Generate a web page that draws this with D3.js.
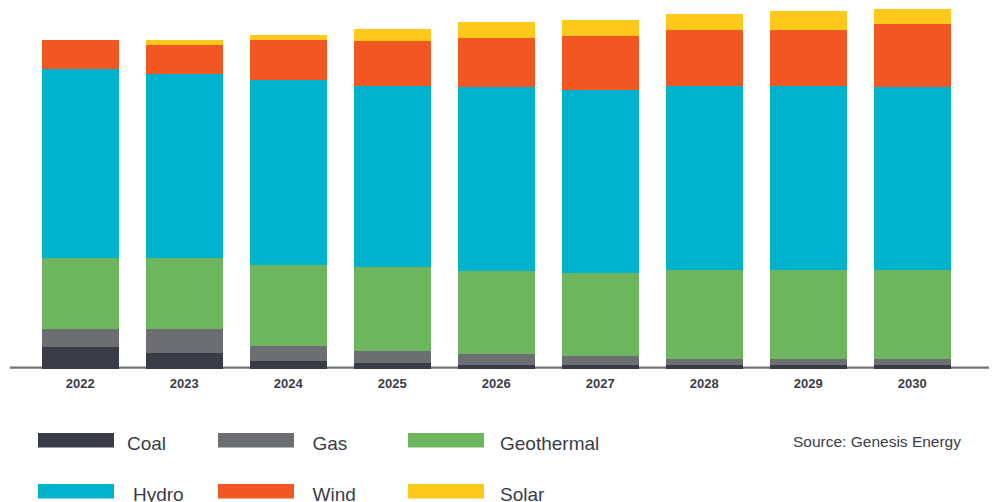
<!DOCTYPE html>
<html>
<head>
<meta charset="utf-8">
<script src="https://cdn.jsdelivr.net/npm/d3@7/dist/d3.min.js"></script>
<style>
  html, body { margin: 0; padding: 0; background: #ffffff; }
  svg { display: block; }
</style>
</head>
<body>
<svg id="chart" width="997" height="502"></svg>
<script>
// ---- Data (TWh) ----
const years = ['2022', '2023', '2024', '2025', '2026', '2027', '2028', '2029', '2030'];
const coal       = [2.8, 2.0, 1.0, 0.7, 0.5, 0.5, 0.5, 0.5, 0.5];
const gas        = [2.4, 3.2, 2.0, 1.6, 1.4, 1.2, 0.8, 0.7, 0.8];
const geothermal = [9.4, 9.4, 10.6, 11.0, 10.9, 10.9, 11.7, 11.8, 11.7];
const hydro      = [24.8, 24.2, 24.3, 23.9, 24.3, 24.1, 24.2, 24.2, 24.0];
const wind       = [3.8, 3.8, 5.3, 5.9, 6.4, 7.1, 7.4, 7.4, 8.3];
const solar      = [0.0, 0.6, 0.7, 1.6, 2.1, 2.1, 2.0, 2.4, 2.0];

const seriesNames  = ['Coal', 'Gas', 'Geothermal', 'Hydro', 'Wind', 'Solar'];
const seriesColors = ['#393c47', '#6d6e71', '#6db55f', '#00b3cc', '#f15623', '#fec91a'];
const sourceText = 'Source: Genesis Energy';

// ---- Build table ----
const seriesValues = [coal, gas, geothermal, hydro, wind, solar];
const table = years.map((y, i) => {
  const row = { year: y };
  seriesNames.forEach((n, j) => { row[n] = seriesValues[j][i]; });
  return row;
});

const svg = d3.select('#chart');
const baseY = 368.5;

const x = d3.scaleBand()
  .domain(years)
  .range([28.2, 964.2])
  .paddingInner(0.26)
  .paddingOuter(0.13);

const y = d3.scaleLinear()
  .domain([0, 48])
  .range([baseY, baseY - 48 * 7.6]);

const color = d3.scaleOrdinal().domain(seriesNames).range(seriesColors);

// axis line (drawn beneath bars)
svg.append('line')
  .attr('x1', 10).attr('x2', 989)
  .attr('y1', 367.6).attr('y2', 367.6)
  .attr('stroke', '#737477')
  .attr('stroke-width', 2.4);

const stacked = d3.stack().keys(seriesNames)(table);

svg.append('g')
  .selectAll('g')
  .data(stacked)
  .join('g')
  .attr('fill', d => color(d.key))
  .selectAll('rect')
  .data(d => d)
  .join('rect')
  .attr('x', d => x(d.data.year))
  .attr('width', x.bandwidth())
  .attr('y', d => y(d[1]))
  .attr('height', d => Math.max(0, y(d[0]) - y(d[1])))
  .attr('shape-rendering', 'crispEdges');

// x axis labels
const xAxis = svg.append('g')
  .attr('transform', `translate(0,${baseY})`)
  .call(d3.axisBottom(x).tickSize(0).tickPadding(10));
xAxis.select('.domain').remove();
xAxis.selectAll('text')
  .attr('fill', '#3a3d46')
  .style('font-family', '"Liberation Sans", Arial, sans-serif')
  .style('font-size', '13px')
  .style('font-weight', 'bold');

// legend
const legendSwatchX = [38, 218, 408];
const legendTextX   = [[127, 312.5, 500], [133, 312.5, 500]];
const legendRowY    = [433, 484];
const legend = svg.append('g');
seriesNames.forEach((n, i) => {
  const row = Math.floor(i / 3), col = i % 3;
  legend.append('rect')
    .attr('x', legendSwatchX[col])
    .attr('y', legendRowY[row])
    .attr('width', 76)
    .attr('height', 14.5)
    .attr('fill', color(n));
  legend.append('text')
    .attr('x', legendTextX[row][col])
    .attr('y', legendRowY[row] + 17)
    .attr('fill', '#3a3d46')
    .style('font-family', '"Liberation Sans", Arial, sans-serif')
    .style('font-size', '19px')
    .text(n);
});

svg.append('text')
  .attr('x', 961)
  .attr('y', 446.5)
  .attr('text-anchor', 'end')
  .attr('fill', '#3a3d46')
  .style('font-family', '"Liberation Sans", Arial, sans-serif')
  .style('font-size', '15.5px')
  .text(sourceText);
</script>
</body>
</html>
